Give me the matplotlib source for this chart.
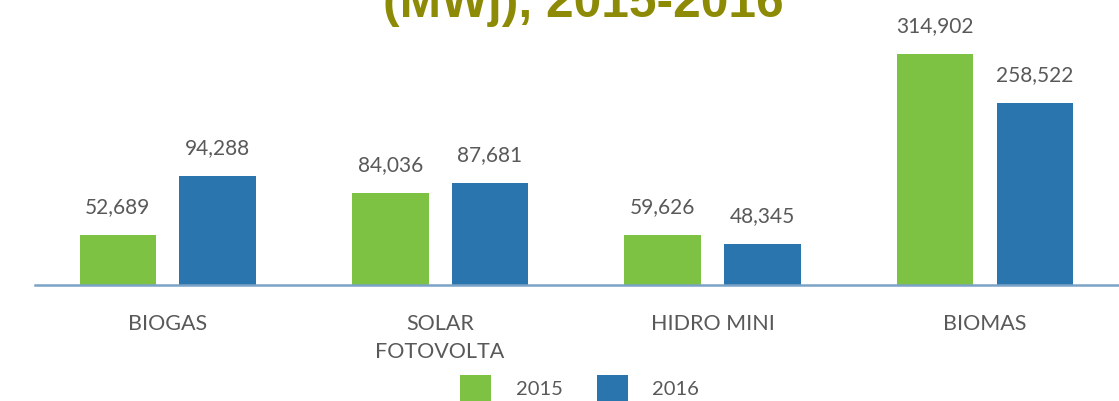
import matplotlib

matplotlib.use("Agg")

import matplotlib.pyplot as plt
import numpy as np

# categories and printed values (MWh)
categories = ["BIOGAS", "SOLAR\nFOTOVOLTA", "HIDRO MINI", "BIOMAS"]
years = ["2015", "2016"]
labels_2015 = [52689, 84036, 59626, 314902]
labels_2016 = [94288, 87681, 48345, 258522]

# bar heights as drawn in the source chart (they do not follow the printed
# numbers exactly, so these are read off the bars themselves)
heights_2015 = [68600, 125400, 68200, 314902]
heights_2016 = [149000, 139500, 55900, 248500]

green = "#7DC242"
blue = "#2A75AE"
text_gray = "#595959"
title_color = "#8D8B06"

W, H = 1119, 401
fig = plt.figure(figsize=(W / 100, H / 100), dpi=100)
fig.patch.set_facecolor("white")

# axes from x=35px to the right edge, baseline at y=285px
ax = fig.add_axes([35 / W, (H - 285) / H, (W - 35) / W, 285 / H])

x = np.arange(len(categories))
bar_w = 0.281
off = 0.183
b1 = ax.bar(x - off, heights_2015, bar_w, color=green, label=years[0])
b2 = ax.bar(x + off, heights_2016, bar_w, color=blue, label=years[1])

for bars, vals in ((b1, labels_2015), (b2, labels_2016)):
    for rect, v in zip(bars, vals):
        ax.annotate(
            f"{v:,}",
            (rect.get_x() + rect.get_width() / 2, rect.get_height()),
            xytext=(0, 15.8),
            textcoords="offset points",
            ha="center",
            va="baseline",
            fontsize=15,
            color=text_gray,
            family="Lato",
        )

ax.set_xlim(-0.487, 3.492)
ax.set_ylim(0, 314902 * 285 / 231)

for side in ("top", "right", "left"):
    ax.spines[side].set_visible(False)
ax.spines["bottom"].set_color("#7BA3C8")
ax.spines["bottom"].set_linewidth(1.8)
ax.set_yticks([])
ax.set_xticks(x)
ax.set_xticklabels(categories, fontsize=15.5, color=text_gray, family="Lato",
                   linespacing=1.5)
ax.tick_params(axis="x", length=0, pad=21)
ax.set_facecolor("none")

fig.legend(
    loc="center",
    bbox_to_anchor=(579.5 / W, 1 - 388 / H),
    ncol=2,
    frameon=False,
    prop={"family": "Lato", "size": 14.5},
    labelcolor=text_gray,
    handlelength=1.55,
    handleheight=1.55,
    handletextpad=1.2,
    columnspacing=1.7,
    borderpad=0,
)

# title, mostly cut off at the top of the image (as in the source)
fig.text(
    583 / W,
    1 - 17 / H,
    "(MWj), 2015-2016",
    ha="center",
    va="baseline",
    fontsize=35.7,
    fontweight="bold",
    color=title_color,
    family="Liberation Sans",
)

fig.savefig("out.png", dpi=100)
